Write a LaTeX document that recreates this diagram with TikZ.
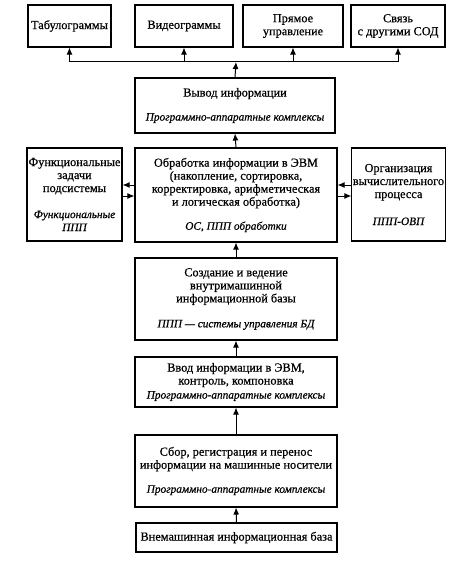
\documentclass[tikz,border=0pt]{standalone}
\usepackage{fontspec}
\setmainfont{Liberation Serif}[FakeBold=0.6]
\usetikzlibrary{arrows.meta}
\newcommand{\progtext}[1]{{\fontsize{11.3}{13}\selectfont\itshape #1}}

\begin{document}
\begin{tikzpicture}[x=1pt, y=-1pt,
    box/.style={draw, line width=1.1pt, align=center, inner sep=1pt,
        font=\fontsize{12.3}{13}\selectfont},
    arr/.style={-{Latex[length=7pt,width=6pt]}, line width=1pt}]
    \useasboundingbox (0,0) rectangle (460,564);

    % Output devices
    \node[box, minimum width=83pt, minimum height=42pt] (tab) at (69.5,26) {Табулограммы};
    \node[box, minimum width=98pt, minimum height=42pt] (video) at (184,26) {Видеограммы};
    \node[box, minimum width=100pt, minimum height=42pt] (direct) at (293,26) {Прямое\\управление};
    \node[box, minimum width=94pt, minimum height=42pt] (link) at (398,26) {Связь\\с другими СОД};

    % Output
    \node[box, minimum width=200pt, minimum height=55pt] (output) at (235,105.5)
        {Вывод информации\\[11pt]\progtext{Программно-аппаратные комплексы}};

    % Processing row
    \node[box, minimum width=95pt, minimum height=93pt] (func) at (74.5,194.5)
        {Функциональные\\задачи\\подсистемы\\[13pt]\progtext{Функциональные}\\\progtext{ППП}};
    \node[box, minimum width=202pt, minimum height=94pt] (proc) at (236,195)
        {Обработка информации в ЭВМ\\(накопление, сортировка,\\корректировка, арифметическая\\и логическая обработка)\\[11pt]\progtext{ОС, ППП обработки}};
    \node[box, minimum width=93pt, minimum height=93pt] (org) at (398.5,194.5)
        {Организация\\вычислительного\\процесса\\[14pt]\progtext{ППП-ОВП}};

    % Lower chain
    \node[box, minimum width=202pt, minimum height=82pt] (base) at (236,299)
        {Создание и ведение\\внутримашинной\\информационной базы\\[12pt]\progtext{ППП --- системы управления БД}};
    \node[box, minimum width=202pt, minimum height=50pt] (input) at (236,382)
        {Ввод информации в ЭВМ,\\контроль, компоновка\\[1pt]\progtext{Программно-аппаратные комплексы}};
    \node[box, minimum width=202pt, minimum height=72pt] (collect) at (236,471)
        {Сбор, регистрация и перенос\\информации на машинные носители\\[11pt]\progtext{Программно-аппаратные комплексы}};
    \node[box, minimum width=201pt, minimum height=29pt] (ext) at (236.5,537.5)
        {Внемашинная информационная база};

    % Bus to output devices
    \coordinate (bus) at (236,62);
    \draw[line width=1pt] (tab.south |- bus) -- (link.south |- bus);
    \draw[arr] (output.north) -- (bus);
    \foreach \n in {tab,video,direct,link}
        \draw[arr] (\n.south |- bus) -- (\n.south);

    % Vertical chain
    \draw[arr] (ext.north) -- (collect.south);
    \draw[arr] (collect.north) -- (input.south);
    \draw[arr] (input.north) -- (base.south);
    \draw[arr] (base.north) -- (proc.south);
    \draw[arr] (proc.north) -- (output.south);

    % Side exchanges
    \draw[arr] ([yshift=10pt]proc.west) -- ([yshift=10pt]proc.west -| func.east);
    \draw[arr] ([yshift=-1pt]func.east |- proc.west) -- ([yshift=-1pt]proc.west);
    \draw[arr] ([yshift=10pt]org.west |- proc.east) -- ([yshift=10pt]proc.east);
    \draw[arr] ([yshift=-1pt]proc.east) -- ([yshift=-1pt]proc.east -| org.west);
\end{tikzpicture}
\end{document}
